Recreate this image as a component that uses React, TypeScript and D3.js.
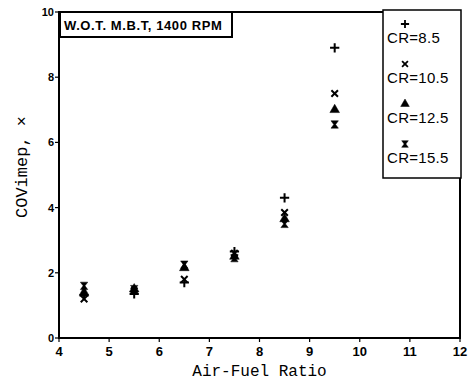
import * as d3 from "d3";

const afr = [4.5, 5.5, 6.5, 7.5, 8.5, 9.5];
const cr85 = [1.3, 1.35, 1.7, 2.65, 4.3, 8.9];
const cr105 = [1.2, 1.45, 1.8, 2.6, 3.85, 7.5];
const cr125 = [1.4, 1.5, 2.15, 2.5, 3.65, 7.0];
const cr155 = [1.6, 1.5, 2.25, 2.45, 3.5, 6.55];
const seriesNames = ["CR=8.5", "CR=10.5", "CR=12.5", "CR=15.5"];
const xTicks = [4, 5, 6, 7, 8, 9, 10, 11, 12];
const yTicks = [0, 2, 4, 6, 8, 10];

// vertical hourglass: two triangles tip to tip
const symbolHourglass = {
  draw(ctx: any, size: number) {
    const s = Math.sqrt(size) * 0.6;
    ctx.moveTo(-s, -s);
    ctx.lineTo(s, -s);
    ctx.lineTo(s * 0.25, 0);
    ctx.lineTo(s, s);
    ctx.lineTo(-s, s);
    ctx.lineTo(-s * 0.25, 0);
    ctx.closePath();
  },
};

const symbols = [d3.symbolPlus, d3.symbolTimes, d3.symbolTriangle, symbolHourglass];
const sizes = [30, 30, 40, 38];

export default function App() {
  const width = 474;
  const height = 382;
  const m = { left: 59, right: 14, top: 12, bottom: 44 };
  const x = d3.scaleLinear().domain([4, 12]).range([m.left, width - m.right]);
  const y = d3.scaleLinear().domain([0, 10]).range([height - m.bottom, m.top]);
  const all = [cr85, cr105, cr125, cr155];

  const legendX = 383;
  const legendY = 10;

  return (
    <svg width={width} height={height} style={{ position: "absolute", left: 0, top: 0, background: "#fff" }}>
      <rect x={x(4)} y={y(10)} width={x(12) - x(4)} height={y(0) - y(10)} fill="none" stroke="#000" strokeWidth={2} />
      {xTicks.map((t) => (
        <g key={"x" + t}>
          <line x1={x(t)} x2={x(t)} y1={y(0)} y2={y(0) + 4} stroke="#000" strokeWidth={1.2} />
          <text x={x(t)} y={y(0) + 18} textAnchor="middle" fontFamily="Arial, Liberation Sans" fontWeight="bold" fontSize={13}>
            {t}
          </text>
        </g>
      ))}
      {yTicks.map((t) => (
        <g key={"y" + t}>
          <line x1={x(4) - 4} x2={x(4)} y1={y(t)} y2={y(t)} stroke="#000" strokeWidth={1.2} />
          <text x={x(4) - 5} y={y(t) + 4} textAnchor="end" fontFamily="Arial, Liberation Sans" fontWeight="bold" fontSize={11}>
            {t}
          </text>
        </g>
      ))}
      <text x={(x(4) + x(12)) / 2} y={376} textAnchor="middle" fontFamily="Liberation Mono, Courier New, monospace" fontSize={16}>
        Air-Fuel Ratio
      </text>
      <text
        transform={`translate(27,${y(5) - 8}) rotate(-90)`}
        textAnchor="middle"
        fontFamily="Liberation Mono, Courier New, monospace"
        fontSize={17}
      >
        COVimep, ×
      </text>

      {all.map((vals, i) =>
        vals.map((v, j) => (
          <path
            key={i + "-" + j}
            transform={`translate(${x(afr[j])},${y(v)})`}
            d={d3.symbol(symbols[i] as any, sizes[i])() || ""}
            fill="#000"
            stroke="#000"
            strokeWidth={i < 2 ? 2 : 0.5}
          />
        ))
      )}

      <rect x={60} y={12} width={172} height={25} fill="#fff" stroke="#000" strokeWidth={2} />
      <text x={64} y={30} fontFamily="Arial, Liberation Sans" fontWeight="bold" fontSize={13} letterSpacing={0.6}>
        W.O.T. M.B.T, 1400 RPM
      </text>

      <rect x={legendX} y={legendY} width={78} height={168} fill="#fff" stroke="#000" strokeWidth={1.5} />
      {seriesNames.map((name, i) => (
        <g key={name} transform={`translate(${legendX},${legendY + 14 + i * 40})`}>
          <path
            transform="translate(22,0)"
            d={d3.symbol(symbols[i] as any, sizes[i] * 0.8)() || ""}
            fill="#000"
            stroke="#000"
            strokeWidth={i < 2 ? 1.8 : 0.5}
          />
          <text x={4} y={19} fontFamily="Arial, Liberation Sans" fontSize={15} letterSpacing={0.3}>
            {name}
          </text>
        </g>
      ))}
    </svg>
  );
}
